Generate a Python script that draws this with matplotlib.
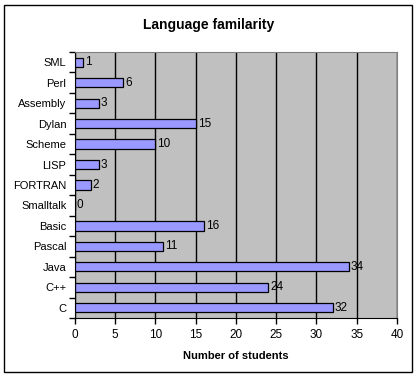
import numpy as np
import matplotlib.pyplot as plt
from matplotlib.patches import Rectangle

plt.rcParams['font.family'] = ['Liberation Sans', 'DejaVu Sans']

languages = ["C", "C++", "Java", "Pascal", "Basic", "Smalltalk", "FORTRAN",
             "LISP", "Scheme", "Dylan", "Assembly", "Perl", "SML"]
students = [32, 24, 34, 11, 16, 0, 2, 3, 10, 15, 3, 6, 1]
xticks = [0, 5, 10, 15, 20, 25, 30, 35, 40]

fig = plt.figure(figsize=(4.17, 3.76), dpi=100)
ax = fig.add_axes([74.7 / 417, 58 / 376, (397 - 74.7) / 417, (318 - 52) / 376])
ax.set_facecolor('#C0C0C0')

y = np.arange(len(languages))
ax.barh(y, students, height=0.45, color='#9999FF', edgecolor='black',
        linewidth=0.9, zorder=3)
for yi, v in zip(y, students):
    ax.text(v + 0.25, yi, str(v), va='center', ha='left', fontsize=8.5, zorder=4)

ax.set_xlim(0, 40)
ax.set_ylim(-0.5, len(languages) - 0.5)
ax.set_xticks(xticks)
ax.xaxis.grid(True, color='black', linewidth=1, zorder=1)
ax.set_axisbelow(True)

# ticks between categories, labels centred on each bar
ax.set_yticks(np.arange(-0.5, len(languages), 1.0))
ax.set_yticklabels([])
ax.set_yticks(y, minor=True)
ax.set_yticklabels(languages, minor=True, fontsize=8)
ax.tick_params(axis='y', which='minor', length=0, pad=6)
ax.tick_params(axis='y', which='major', length=4, width=1, direction='out')
ax.tick_params(axis='x', length=4, width=1, direction='out', labelsize=8.5, pad=4)

for s in ['top', 'right']:
    ax.spines[s].set_color('#808080')
for s in ['left', 'bottom']:
    ax.spines[s].set_color('black')

ax.set_xlabel("Number of students", fontsize=8, fontweight='bold', labelpad=7)
fig.text(0.5, 1 - 25 / 376, "Language familarity", ha='center', va='center',
         fontsize=10, fontweight='bold')

fig.patches.append(Rectangle((4 / 417, 4 / 376), 408 / 417, 367 / 376,
                             transform=fig.transFigure, fill=False,
                             edgecolor='black', linewidth=1))

fig.savefig("out.png", dpi=100)
